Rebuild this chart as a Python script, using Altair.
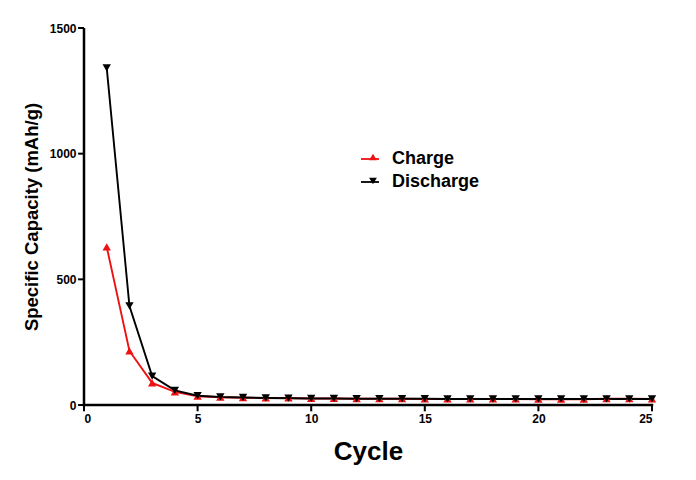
import altair as alt
import pandas as pd

cycles = list(range(1, 26))
charge = [629, 215, 88, 52, 35, 31, 29, 28, 28, 26, 26, 25, 25, 25, 24, 24, 24, 24, 24, 23, 23, 23, 25, 25, 24]
discharge = [1341, 394, 115, 58, 37, 32, 30, 28, 27, 26, 26, 25, 25, 25, 25, 24, 24, 24, 24, 24, 24, 24, 24, 24, 24]
series = ["Charge", "Discharge"]
marker_keys = ["Charge marker", "Discharge marker"]
colors = ["#ee1111", "#000000"]
shapes = ["triangle-up", "triangle-down"]
x_ticks = [0, 5, 10, 15, 20, 25]
y_ticks = [0, 500, 1000, 1500]

rows = []
for name, mk, vals in zip(series, marker_keys, [charge, discharge]):
    for c, v in zip(cycles, vals):
        rows.append({"Cycle": c, "Capacity": v, "Series": name, "Marker": mk})
df = pd.DataFrame(rows)

# axis frame drawn as thin filled bands (data units: 0.11 cycle ~ 2.5px, 10 mAh/g ~ 2.5px)
bands = pd.DataFrame({
    "x0": [-0.055, -0.055], "x1": [0.055, x_ticks[-1] + 0.055],
    "y0": [-5, -5], "y1": [y_ticks[-1], 5],
})
xtick_df = pd.DataFrame({"x0": [t - 0.045 for t in x_ticks], "x1": [t + 0.045 for t in x_ticks],
                         "y0": [-25] * len(x_ticks), "y1": [0] * len(x_ticks)})
ytick_df = pd.DataFrame({"x0": [-0.26] * len(y_ticks), "x1": [0] * len(y_ticks),
                         "y0": [t - 4 for t in y_ticks], "y1": [t + 4 for t in y_ticks]})

FONT = "Liberation Sans"

xscale = alt.Scale(domain=[0, 25], nice=False, zero=False)
yscale = alt.Scale(domain=[0, 1500], nice=False)

x = alt.X("Cycle:Q", scale=xscale,
          axis=alt.Axis(title="Cycle", values=x_ticks, grid=False, format="d",
                        domain=False, ticks=False,
                        titleFontSize=26, titleFont=FONT, titleFontWeight="bold",
                        titlePadding=14, labelFont=FONT, labelFontWeight="bold",
                        labelFontSize=12, labelColor="#000", titleColor="#000",
                        labelPadding=8))
y = alt.Y("Capacity:Q", scale=yscale,
          axis=alt.Axis(title="Specific Capacity (mAh/g)", values=y_ticks, format="d",
                        grid=False, domain=False, ticks=False,
                        titleFontSize=18.5, titleFont=FONT, titleFontWeight="bold",
                        titlePadding=8, labelFont=FONT, labelFontWeight="bold",
                        labelFontSize=12, labelColor="#000", titleColor="#000",
                        labelPadding=8))


def band_layer(data):
    return alt.Chart(data).mark_rect(color="#000000", opacity=1).encode(
        x=alt.X("x0:Q", scale=xscale), x2="x1:Q",
        y=alt.Y("y0:Q", scale=yscale), y2="y1:Q",
    )


frame_layer = band_layer(bands)
xtick_layer = band_layer(xtick_df)
ytick_layer = band_layer(ytick_df)

# legend for the line part (stroke symbols) carries the labels
line_legend = alt.Legend(
    title=None, orient="none", legendX=276, legendY=121, padding=0,
    labelFont=FONT, labelFontSize=18, labelFontWeight="bold", labelColor="#000", labelOffset=12,
    rowPadding=4, symbolType="stroke", symbolSize=324, symbolStrokeWidth=1.8,
)
# legend for the markers, drawn over the line symbols, no labels
point_legend = alt.Legend(
    title=None, orient="none", legendX=281, legendY=121, padding=0,
    labelFont=FONT, labelFontSize=16, labelExpr="''", labelOffset=12,
    rowPadding=8, symbolSize=60, symbolStrokeWidth=0,
)

lines = alt.Chart(df).mark_line(strokeWidth=1.9).encode(
    x=x, y=y,
    color=alt.Color("Series:N", scale=alt.Scale(domain=series, range=colors), legend=line_legend),
    order="Cycle:Q",
)

points = alt.Chart(df).mark_point(filled=True, size=70, opacity=1, strokeWidth=0).encode(
    x=x, y=y,
    fill=alt.Fill("Marker:N", scale=alt.Scale(domain=marker_keys, range=colors), legend=point_legend),
    shape=alt.Shape("Marker:N", scale=alt.Scale(domain=marker_keys, range=shapes), legend=point_legend),
)

chart = alt.layer(lines, points, frame_layer, xtick_layer, ytick_layer).properties(
    width=568, height=377,
    autosize=alt.AutoSizeParams(type="none"),
    padding={"left": 76, "top": 20, "right": 20, "bottom": 60},
    background="white",
).configure_view(stroke=None)

chart.save("out.html", embed_options={"renderer": "svg", "actions": False})
